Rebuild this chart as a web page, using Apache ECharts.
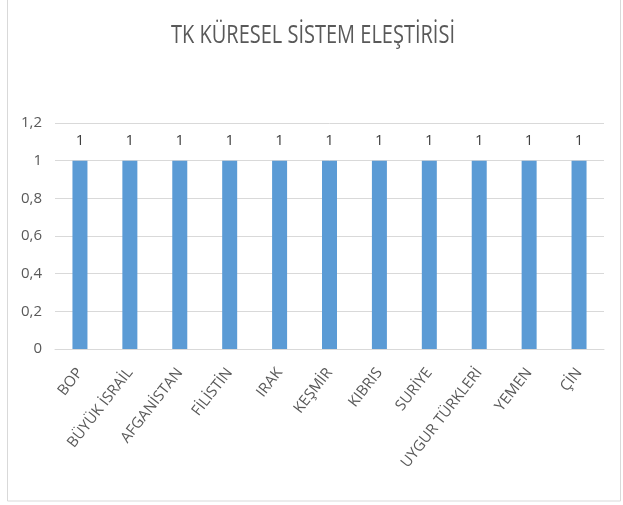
<!DOCTYPE html>
<html>
<head>
<meta charset="utf-8">
<script src="https://cdn.jsdelivr.net/npm/echarts@6/dist/echarts.min.js"></script>
<style>
  html, body { margin: 0; padding: 0; background: #ffffff; }
  #chart { width: 623px; height: 505px; }
</style>
</head>
<body>
<div id="chart"></div>
<script>
// Topics and their counts
const categories = ['BOP', 'BÜYÜK İSRAİL', 'AFGANİSTAN', 'FİLİSTİN', 'IRAK', 'KEŞMİR', 'KIBRIS', 'SURİYE', 'UYGUR TÜRKLERİ', 'YEMEN', 'ÇİN'];
const values = [1, 1, 1, 1, 1, 1, 1, 1, 1, 1, 1];
const yTicks = ['0', '0,2', '0,4', '0,6', '0,8', '1', '1,2'];
const titleText = 'TK KÜRESEL SİSTEM ELEŞTİRİSİ';

const chart = echarts.init(document.getElementById('chart'), null, { renderer: 'canvas' });
const fontFamily = '"Open Sans", "Noto Sans", sans-serif';

chart.setOption({
  animation: false,
  backgroundColor: '#ffffff',
  graphic: [
    {
      // outer frame of the chart area
      type: 'rect',
      shape: { x: 7.5, y: -5, width: 613, height: 506 },
      style: { fill: 'none', stroke: '#d9d9d9', lineWidth: 1 },
      silent: true
    },
    {
      // title, slightly tall lettering
      type: 'text',
      x: 313,
      y: 36,
      scaleY: 1.3,
      style: {
        text: titleText,
        fill: '#595959',
        fontSize: 20,
        fontFamily: fontFamily,
        align: 'center',
        verticalAlign: 'middle'
      },
      silent: true
    }
  ],
  grid: { left: 55, right: 19, top: 123, bottom: 156 },
  xAxis: {
    type: 'category',
    data: categories,
    axisLine: { lineStyle: { color: '#d9d9d9' } },
    axisTick: { show: false },
    axisLabel: {
      interval: 0,
      rotate: 52,
      margin: 21,
      color: '#595959',
      fontSize: 15,
      fontFamily: fontFamily
    }
  },
  yAxis: {
    type: 'value',
    min: 0,
    max: 1.2,
    interval: 0.2,
    axisLine: { show: false },
    axisTick: { show: false },
    splitLine: { lineStyle: { color: '#d9d9d9' } },
    axisLabel: {
      color: '#595959',
      fontSize: 15,
      margin: 13,
      fontFamily: fontFamily,
      formatter: function (v) { return yTicks[Math.round(v / 0.2)]; }
    }
  },
  series: [{
    type: 'bar',
    data: values,
    barWidth: 15,
    itemStyle: { color: '#5b9bd5' },
    label: {
      show: true,
      position: 'top',
      distance: 12,
      color: '#404040',
      fontSize: 15,
      fontFamily: fontFamily
    }
  }]
});
</script>
</body>
</html>
